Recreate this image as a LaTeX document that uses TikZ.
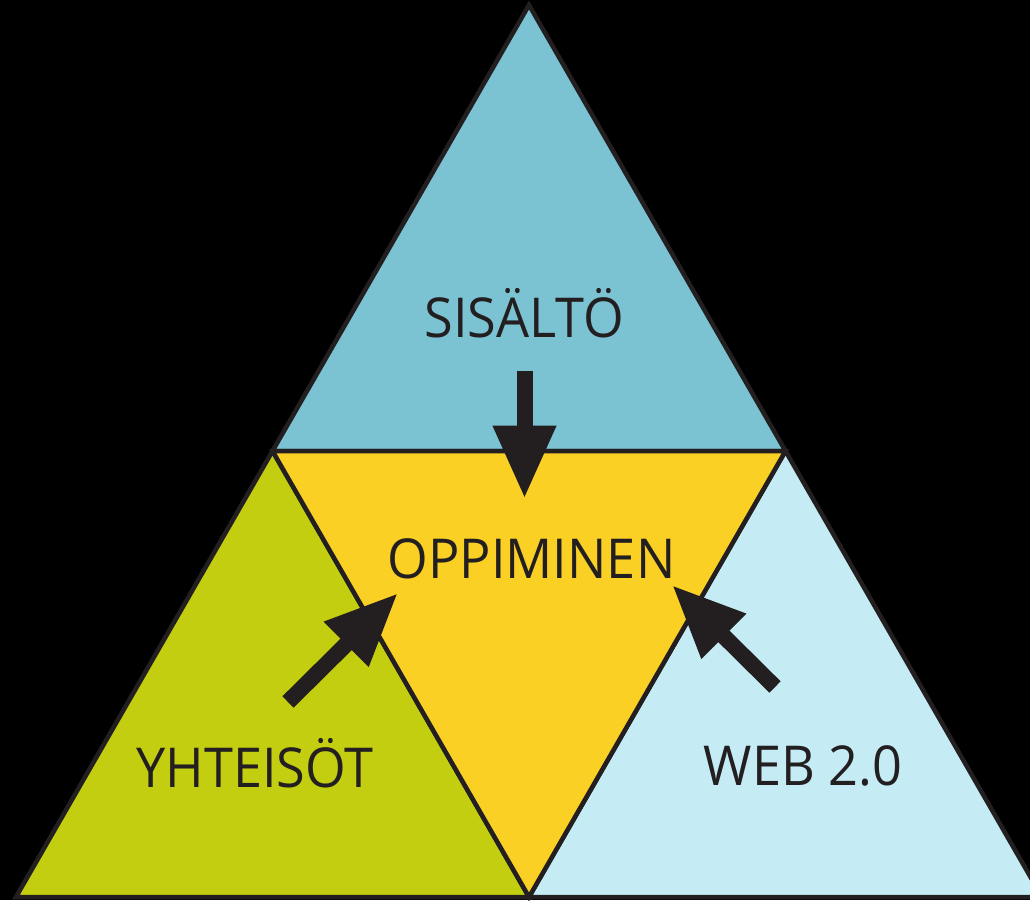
\documentclass[tikz,border=0pt]{standalone}
\usepackage{fontspec}
\setmainfont{Open Sans}
\newfontfamily\kuvafont{Open Sans}[FakeStretch=0.95]
\usetikzlibrary{calc}
\usetikzlibrary{arrows.meta}
\usetikzlibrary{positioning}

\definecolor{sisaltoc}{RGB}{123,195,211}
\definecolor{oppic}{RGB}{249,208,35}
\definecolor{yhteisoc}{RGB}{196,206,16}
\definecolor{webc}{RGB}{197,236,245}
\definecolor{ink}{RGB}{35,31,32}

\begin{document}
\begin{tikzpicture}[x=1pt,y=-1pt,
  side/.style={draw=ink,line width=4.5pt,line join=miter},
  teksti/.style={font=\kuvafont\fontsize{55}{60}\selectfont,text=ink,anchor=base,inner sep=0pt},
  bigarrow/.style={draw=ink,line width=16pt,-{Triangle[width=59pt,length=73pt,fill=ink]}}]

\fill[black] (0,0) rectangle (1030,900);
\useasboundingbox (0,0) rectangle (1030,900);

\coordinate (top) at (529,5);
\coordinate (bl) at (16,897);
\coordinate (br) at (1042,897);
\coordinate (ml) at ($(top)!0.5!(bl)$);
\coordinate (mr) at ($(top)!0.5!(br)$);
\coordinate (mb) at ($(bl)!0.5!(br)$);

% four triangles
\filldraw[side,fill=sisaltoc] (top) -- (mr) -- (ml) -- cycle;
\filldraw[side,fill=yhteisoc] (ml) -- (mb) -- (bl) -- cycle;
\filldraw[side,fill=webc] (mr) -- (br) -- (mb) -- cycle;
\filldraw[side,fill=oppic] (ml) -- (mr) -- (mb) -- cycle;

\node[teksti] (sisalto) at (524.5,337) {SISÄLTÖ};
\node[teksti] (oppi) at (531.5,578) {OPPIMINEN};
\node[teksti] (yhteiso) at (255,787) {YHTEISÖT};
\node[teksti] (web) at (803,785) {WEB 2.0};

\coordinate[below=33pt of sisalto.south] (s1);
\coordinate (s2) at ($(s1)+(0,128)$);
\coordinate (y1) at (288,702);
\coordinate (y2) at (398,593);
\coordinate (w1) at (775,687);
\coordinate (w2) at (672,585);

\draw[bigarrow] (s1) -- (s2);
\draw[bigarrow] (y1) -- (y2);
\draw[bigarrow] (w1) -- (w2);

\end{tikzpicture}
\end{document}
